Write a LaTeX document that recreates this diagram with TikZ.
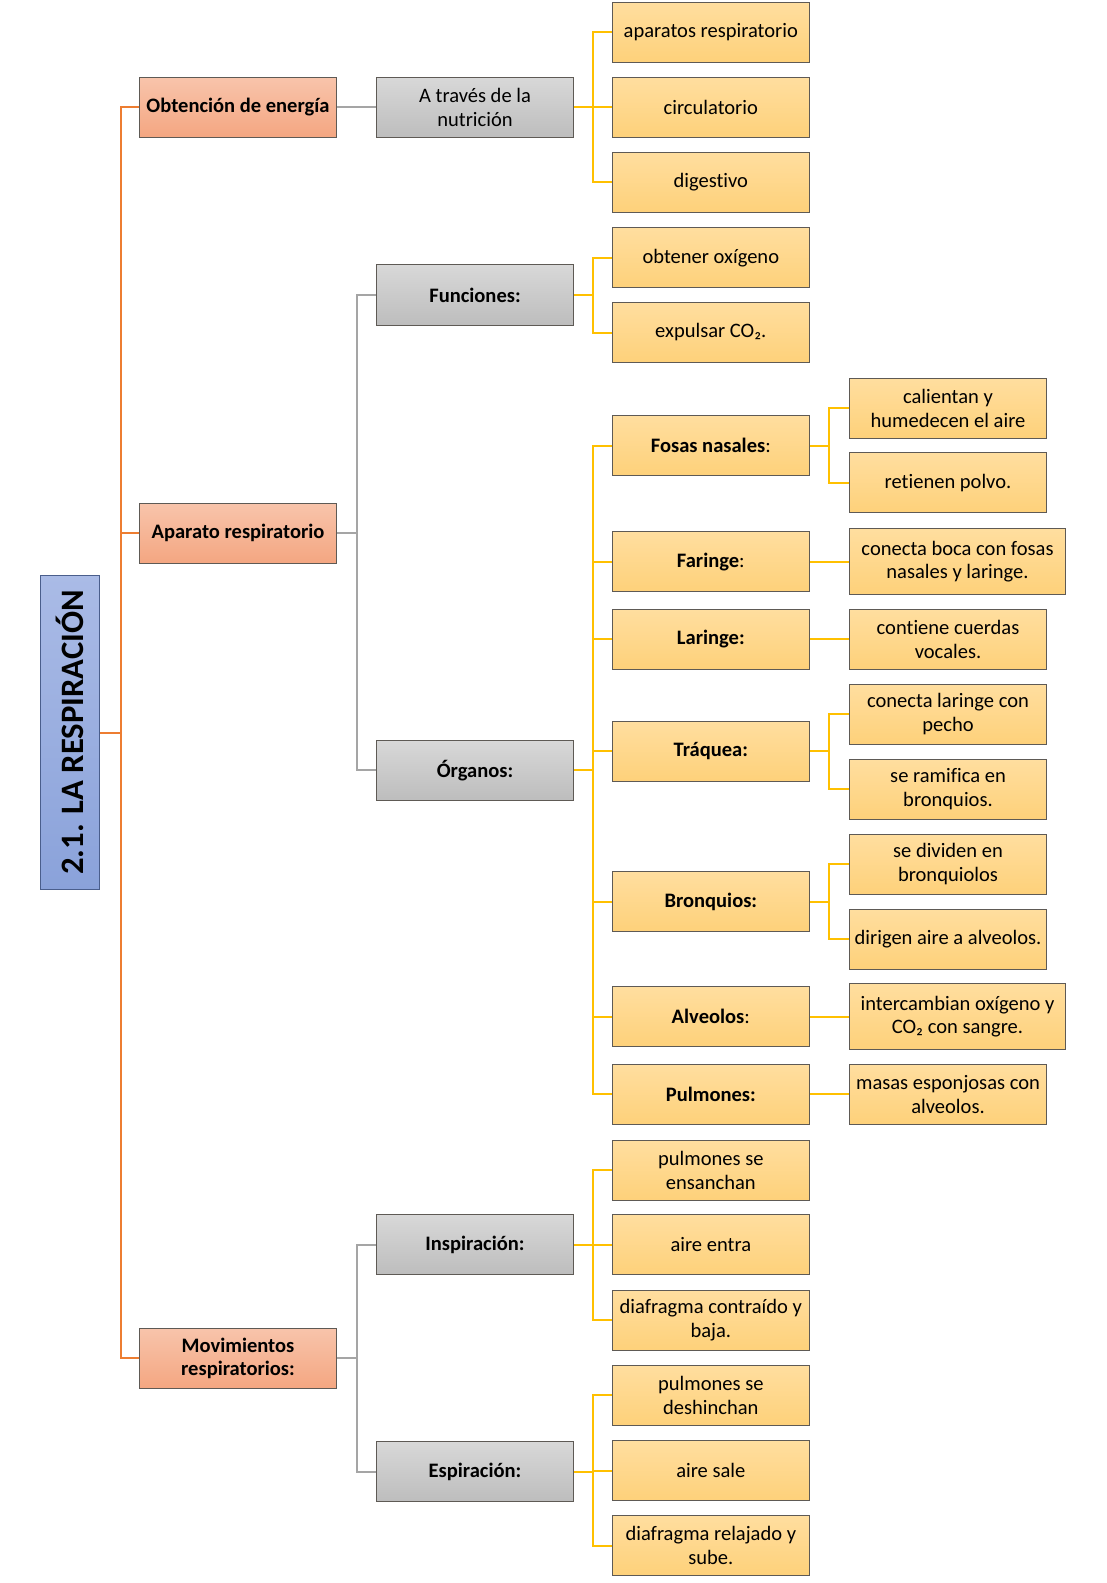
\documentclass[tikz,border=0pt]{standalone}
\usepackage{fontspec}
\setmainfont{Carlito}[Ligatures={NoCommon}]
\usepackage{graphicx}
\definecolor{oline}{HTML}{ED7D31}
\definecolor{gline}{HTML}{A5A5A5}
\definecolor{yline}{HTML}{FFC000}
\definecolor{bord}{HTML}{5E5A55}
\definecolor{otop}{HTML}{F8C4AB}
\definecolor{obot}{HTML}{F4A681}
\definecolor{gtop}{HTML}{D8D8D8}
\definecolor{gbot}{HTML}{BDBDBD}
\definecolor{ytop}{HTML}{FFDE9F}
\definecolor{ybot}{HTML}{FED17A}
\definecolor{ttop}{HTML}{AABBE6}
\definecolor{tbot}{HTML}{8AA2DA}
\definecolor{tbord}{HTML}{4A5E8C}
\tikzset{
  basebox/.style={draw=bord, line width=0.75pt, minimum width=148pt, minimum height=45pt,
    inner sep=2pt, align=center, font=\fontsize{15.4}{17.8}\selectfont},
  obox/.style={basebox, top color=otop, bottom color=obot},
  gbox/.style={basebox, top color=gtop, bottom color=gbot},
  ybox/.style={basebox, top color=ytop, bottom color=ybot},
  ywide/.style={ybox, minimum width=162.3pt, minimum height=49.5pt},
  bf/.style={font=\fontsize{15.4}{17.8}\selectfont\bfseries},
  olink/.style={draw=oline, line width=1.5pt},
  glink/.style={draw=gline, line width=1.5pt},
  ylink/.style={draw=yline, line width=1.5pt},
}
\begin{document}
\begin{tikzpicture}[x=0.75pt,y=-0.75pt]
\useasboundingbox (0,0) rectangle (1106,1583);
% title
\node[draw=tbord, line width=0.75pt, top color=ttop, bottom color=tbot, minimum width=44.7pt, minimum height=236pt, inner sep=0pt]
  (title) at (70.1,732.6) {\rotatebox{90}{\fontsize{24.5}{28}\selectfont\bfseries 2.1. LA RESPIRACIÓN}};
% level 1
\node[obox, bf] (ob) at (238,107.5) {Obtención de energía};
\node[obox, bf] (ap) at (238,533.3) {Aparato respiratorio};
\node[obox, bf] (mov) at (238,1358.3) {Movimientos\\respiratorios:};
% level 2
\node[gbox] (atn) at (475,107.5) {A través de la\\nutrición};
\node[gbox, bf] (fun) at (475,295) {Funciones:};
\node[gbox, bf] (org) at (475,770.3) {Órganos:};
\node[gbox, bf] (insp) at (475,1244.7) {Inspiración:};
\node[gbox, bf] (esp) at (475,1471.7) {Espiración:};
% level 3
\node[ybox] (apa) at (710.8,32.5) {aparatos respiratorio};
\node[ybox] (cir) at (710.8,107.5) {circulatorio};
\node[ybox] (dig) at (710.8,182.1) {digestivo};
\node[ybox] (obt) at (710.8,257.8) {obtener oxígeno};
\node[ybox] (exp) at (710.8,332.5) {expulsar CO₂.};
\node[ybox] (fos) at (710.8,445.5) {\textbf{Fosas nasales}:};
\node[ybox] (far) at (710.8,561.6) {\textbf{Faringe}:};
\node[ybox, bf] (lar) at (710.8,639.3) {Laringe:};
\node[ybox, bf] (tra) at (710.8,751.3) {Tráquea:};
\node[ybox, bf] (bro) at (710.8,901.6) {Bronquios:};
\node[ybox] (alv) at (710.8,1016.7) {\textbf{Alveolos}:};
\node[ybox, bf] (pul) at (710.8,1094.4) {Pulmones:};
\node[ybox] (ens) at (710.8,1170.1) {pulmones se\\ensanchan};
\node[ybox] (aen) at (710.8,1244.7) {aire entra};
\node[ybox] (dco) at (710.8,1320.4) {diafragma contraído y\\baja.};
\node[ybox] (des) at (710.8,1395.1) {pulmones se\\deshinchan};
\node[ybox] (asa) at (710.8,1470.8) {aire sale};
\node[ybox] (dre) at (710.8,1545.5) {diafragma relajado y\\sube.};
% level 4
\node[ybox] (cal) at (948,408.2) {calientan y\\humedecen el aire};
\node[ybox] (ret) at (948,482.9) {retienen polvo.};
\node[ywide] (cbo) at (957.5,561.6) {conecta boca con fosas\\nasales y laringe.};
\node[ybox] (cue) at (948,639.3) {contiene cuerdas\\vocales.};
\node[ybox] (cla) at (948,714.3) {conecta laringe con\\pecho};
\node[ybox] (ram) at (948,789.3) {se ramifica en\\bronquios.};
\node[ybox] (div) at (948,864.3) {se dividen en\\bronquiolos};
\node[ybox] (dir) at (948,939) {dirigen aire a alveolos.};
\node[ywide] (int) at (957.5,1016.7) {intercambian oxígeno y\\CO₂ con sangre.};
\node[ybox] (mas) at (948,1094.4) {masas esponjosas con\\alveolos.};
% trunk coordinates
\coordinate (ot) at (120.7,0);
\coordinate (gt) at (356.7,0);
\coordinate (yt) at (592.5,0);
\coordinate (zt) at (829.3,0);
% orange
\draw[olink] (ob.west) -- (ob.west -| ot) -- (mov.west -| ot) -- (mov.west);
\draw[olink] (ap.west) -- (ap.west -| ot);
\draw[olink] (title.east) -- (title.east -| ot);
% gray
\draw[glink] (ob.east) -- (atn.west);
\draw[glink] (ap.east) -- (ap.east -| gt);
\draw[glink] (fun.west) -- (fun.west -| gt) -- (org.west -| gt) -- (org.west);
\draw[glink] (mov.east) -- (mov.east -| gt);
\draw[glink] (insp.west) -- (insp.west -| gt) -- (esp.west -| gt) -- (esp.west);
% yellow level 3
\draw[ylink] (atn.east) -- (atn.east -| yt);
\draw[ylink] (apa.west) -- (apa.west -| yt) -- (dig.west -| yt) -- (dig.west);
\draw[ylink] (cir.west) -- (cir.west -| yt);
\draw[ylink] (fun.east) -- (fun.east -| yt);
\draw[ylink] (obt.west) -- (obt.west -| yt) -- (exp.west -| yt) -- (exp.west);
\draw[ylink] (org.east) -- (org.east -| yt);
\draw[ylink] (fos.west) -- (fos.west -| yt) -- (pul.west -| yt) -- (pul.west);
\foreach \c in {far,lar,tra,bro,alv} \draw[ylink] (\c.west) -- (\c.west -| yt);
\draw[ylink] (insp.east) -- (insp.east -| yt);
\draw[ylink] (ens.west) -- (ens.west -| yt) -- (dco.west -| yt) -- (dco.west);
\draw[ylink] (aen.west) -- (aen.west -| yt);
\draw[ylink] (esp.east) -- (esp.east -| yt);
\draw[ylink] (des.west) -- (des.west -| yt) -- (dre.west -| yt) -- (dre.west);
\draw[ylink] (asa.west) -- (asa.west -| yt);
% yellow level 4
\draw[ylink] (fos.east) -- (fos.east -| zt);
\draw[ylink] (cal.west) -- (cal.west -| zt) -- (ret.west -| zt) -- (ret.west);
\draw[ylink] (far.east) -- (cbo.west);
\draw[ylink] (lar.east) -- (cue.west);
\draw[ylink] (tra.east) -- (tra.east -| zt);
\draw[ylink] (cla.west) -- (cla.west -| zt) -- (ram.west -| zt) -- (ram.west);
\draw[ylink] (bro.east) -- (bro.east -| zt);
\draw[ylink] (div.west) -- (div.west -| zt) -- (dir.west -| zt) -- (dir.west);
\draw[ylink] (alv.east) -- (int.west);
\draw[ylink] (pul.east) -- (mas.west);
\end{tikzpicture}
\end{document}
